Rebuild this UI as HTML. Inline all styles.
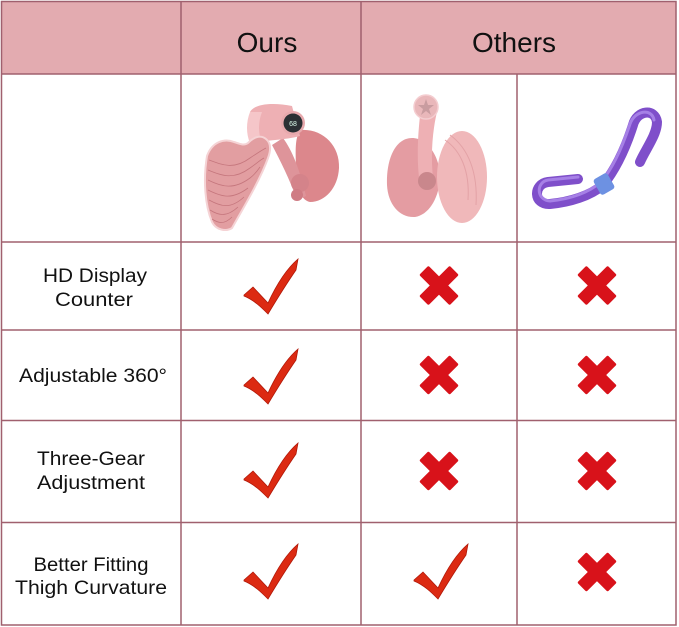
<!DOCTYPE html>
<html><head><meta charset="utf-8"><style>
html,body{margin:0;padding:0;background:#fff;}
svg{display:block;}
text{font-family:"Liberation Sans",sans-serif;fill:#111;}
</style></head><body>
<svg width="679" height="627" viewBox="0 0 679 627" xmlns="http://www.w3.org/2000/svg">
<defs>
<path id="chk" d="M1,37 L10,29 L25,45 C31,32 41,13 55,1 L53,12 C44,25 34,41 25,56 C19,50 11,42 1,38 Z" fill="#dc2a12" stroke="#b01808" stroke-width="0.8"/>
<g id="xx">
<rect x="-21.5" y="-6.5" width="43" height="13" rx="1.5" fill="#d8121a" transform="rotate(45)"/>
<rect x="-21.5" y="-6.5" width="43" height="13" rx="1.5" fill="#d8121a" transform="rotate(-45)"/>
</g>
</defs>
<!-- header -->
<rect x="1.5" y="1.5" width="674.5" height="72.5" fill="#e3abb0"/>
<text x="267" y="52" font-size="28" text-anchor="middle">Ours</text>
<text x="514" y="52" font-size="28" text-anchor="middle">Others</text>

<!-- grid -->
<g stroke="#a0606e" stroke-width="1.5" fill="none">
<rect x="1.5" y="1.5" width="674.5" height="623.5"/>
<line x1="1.5" y1="74" x2="676" y2="74"/>
<line x1="1.5" y1="242" x2="676" y2="242"/>
<line x1="1.5" y1="330" x2="676" y2="330"/>
<line x1="1.5" y1="420.5" x2="676" y2="420.5"/>
<line x1="1.5" y1="522.5" x2="676" y2="522.5"/>
<line x1="181" y1="1.5" x2="181" y2="625"/>
<line x1="361" y1="1.5" x2="361" y2="625"/>
<line x1="517" y1="74" x2="517" y2="625"/>
</g>

<!-- row labels -->
<g font-size="19" text-anchor="middle">
<text x="95" y="282" textLength="104" lengthAdjust="spacingAndGlyphs">HD Display</text>
<text x="94" y="306" textLength="78" lengthAdjust="spacingAndGlyphs">Counter</text>
<text x="93" y="382" textLength="148" lengthAdjust="spacingAndGlyphs">Adjustable 360°</text>
<text x="91" y="465" textLength="108" lengthAdjust="spacingAndGlyphs">Three-Gear</text>
<text x="91" y="489" textLength="108" lengthAdjust="spacingAndGlyphs">Adjustment</text>
<text x="91" y="571" textLength="115" lengthAdjust="spacingAndGlyphs">Better Fitting</text>
<text x="91" y="594" textLength="152" lengthAdjust="spacingAndGlyphs">Thigh Curvature</text>
</g>

<!-- checks -->
<use href="#chk" x="243" y="258"/>
<use href="#chk" x="243" y="348"/>
<use href="#chk" x="243" y="442"/>
<use href="#chk" x="243" y="543"/>
<use href="#chk" x="413" y="543"/>

<!-- crosses -->
<use href="#xx" x="439" y="285.5"/>
<use href="#xx" x="597" y="285.5"/>
<use href="#xx" x="439" y="375"/>
<use href="#xx" x="597" y="375"/>
<use href="#xx" x="439" y="471"/>
<use href="#xx" x="597" y="471"/>
<use href="#xx" x="597" y="572"/>

<!-- Ours product -->
<g>
<path d="M300,130 C322,128 340,145 339,168 C338,188 325,202 310,202 C300,200 296,185 296,170 C296,155 294,140 300,130 Z" fill="#dc878c"/>
<path d="M283,138 C292,150 300,170 306,196 L297,200 C290,180 280,160 272,145 Z" fill="#de949a"/>
<circle cx="300" cy="183" r="9" fill="#d4838a"/>
<circle cx="297" cy="195" r="6" fill="#cf7c84"/>
<path d="M250,112 C254,104 272,102 292,106 L300,136 C285,140 268,140 262,142 L252,140 Z" fill="#eeb0b4"/>
<path d="M250,112 C246,122 246,134 250,143 L262,143 C258,134 258,122 262,112 Z" fill="#f5c6c9"/>
<circle cx="293" cy="123" r="12" fill="#e7a9ad"/>
<circle cx="293" cy="123" r="9.5" fill="#2b3034"/>
<text x="293" y="126" font-size="7" text-anchor="middle" style="fill:#dfe">68</text>
<path d="M207,156 C212,142 224,138 234,142 C240,144 244,146 248,143 C253,138 260,134 266,139 C271,143 271,150 268,158 C260,180 245,205 232,228 C226,232 216,230 212,222 C205,205 203,180 207,156 Z" fill="#e29ea1" stroke="#f5d3d5" stroke-width="2"/>
<g stroke="#c5767d" stroke-width="0.8" fill="none">
<path d="M209,160 C222,165 234,170 250,158 C256,154 262,150 266,148"/>
<path d="M208,170 C222,176 234,180 250,168 C256,164 260,160 264,158"/>
<path d="M208,180 C222,187 234,190 250,178 C254,175 258,170 260,167"/>
<path d="M208,190 C222,197 232,200 248,188"/>
<path d="M209,200 C220,206 230,210 244,197"/>
<path d="M210,210 C218,215 226,218 238,207"/>
<path d="M212,219 C218,223 224,225 232,217"/>
</g>
</g>

<!-- Others pink product -->
<g>
<path d="M412,138 C395,138 386,160 387,185 C388,205 400,218 415,217 C428,215 438,200 440,180 C441,158 428,138 412,138 Z" fill="#e49ca2"/>
<path d="M421,108 C418,130 416,160 420,185 L434,185 C430,160 432,130 438,108 Z" fill="#eeb0b4"/>
<circle cx="426" cy="107" r="12" fill="#e9b7ba" stroke="#f4cdd0" stroke-width="1.5"/>
<path d="M426,99 L428,105 L434,105 L429,109 L431,115 L426,111 L421,115 L423,109 L418,105 L424,105 Z" fill="#c99ca0"/>
<ellipse cx="462" cy="177" rx="25" ry="46" fill="#f0b8ba"/>
<path d="M445,140 C460,150 470,170 468,200" stroke="#e3a2a6" stroke-width="1" fill="none"/>
<path d="M450,135 C468,148 478,172 476,205" stroke="#e3a2a6" stroke-width="1" fill="none"/>
<circle cx="427" cy="181" r="9" fill="#c9878c"/>
</g>

<!-- Purple product -->
<g fill="none" stroke-linecap="round" stroke-linejoin="round">
<path d="M578,179 L548,182 C533,184 533,205 550,204 C570,202 590,196 603,185 C615,170 625,150 633,125 C637,110 655,108 657,122 C657,135 645,150 640,162" stroke="#7f4fca" stroke-width="10"/>
<path d="M578,177 L548,180 C536,182 536,200 550,201 C570,199 588,193 601,182 C613,168 622,148 630,124 C635,110 652,108 654,120" stroke="#a680e6" stroke-width="3"/>
</g>
<rect x="596" y="175" width="16" height="18" rx="3" fill="#6d91e2" transform="rotate(-30 604 184)"/>
</svg>
</body></html>
